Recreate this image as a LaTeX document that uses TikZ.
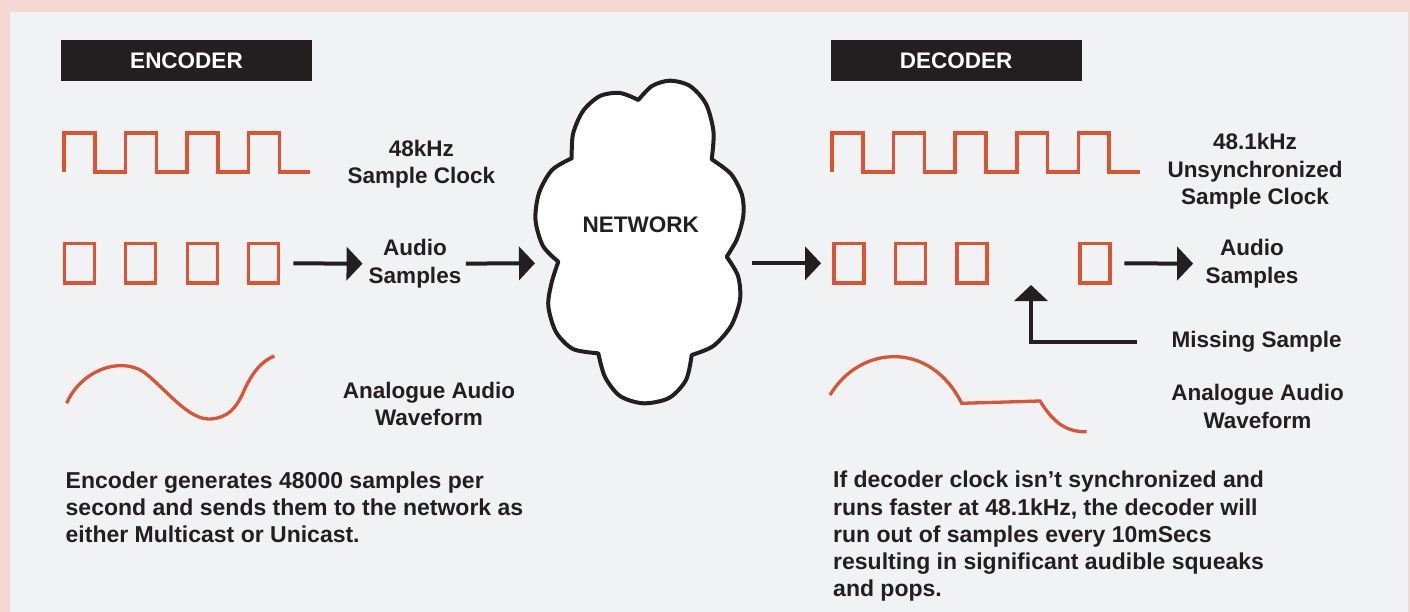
\documentclass[tikz,border=0pt]{standalone}
\usepackage{fontspec}
\setmainfont{Liberation Sans}
\usetikzlibrary{arrows.meta,positioning}
\definecolor{panelgray}{RGB}{241,242,244}
\definecolor{framepink}{RGB}{246,216,210}
\definecolor{waveorange}{RGB}{216,86,54}
\definecolor{inkblack}{RGB}{35,31,32}

\begin{document}
\begin{tikzpicture}[>={Triangle[length=16pt,width=33pt]}, x=1pt, y=-1pt, node distance=61.5pt]
    \tikzstyle{every node}=[font=\bfseries\fontsize{22.5}{27.5}\selectfont,text=inkblack,inner sep=0pt]
    \tikzstyle{title}=[fill=inkblack,text=white,minimum width=251pt,minimum height=41pt]
    \tikzstyle{sample}=[draw=waveorange,line width=3.3pt,minimum width=30pt,minimum height=39.3pt]
    \tikzstyle{wave}=[draw=waveorange,line width=3.6pt]
    \tikzstyle{flow}=[->,draw=inkblack,line width=4pt]
    \tikzstyle{caption}=[align=center]
    \tikzstyle{note}=[anchor=north west,align=left,font=\bfseries\fontsize{23}{27.2}\selectfont]

    \useasboundingbox (0,0) rectangle (1410,612);
    \fill[framepink] (0,0) rectangle (1410,612);
    \fill[panelgray] (10,12) rectangle (1408,612);

    \node[title] (enctitle) at (186.5,60.5) {ENCODER};
    \node[title] (dectitle) at (956,60.5)   {DECODER};

    % sample clocks
    \draw[wave] (64,171.8) \foreach \i in {1,...,4}{ -- ++(0,-38.6) -- ++(31,0) -- ++(0,38.6) -- ++(30.5,0)};
    \draw[wave] (832,171.8) \foreach \i in {1,...,5}{ -- ++(0,-38.6) -- ++(30.8,0) -- ++(0,38.6) -- ++(30.8,0)};
    \node[caption] (eclock) at (421.3,164.3) {48kHz\\Sample Clock};
    \node[caption] (dclock) at (1255,171.5)  {48.1kHz\\Unsynchronized\\Sample Clock};

    % audio samples
    \node[sample] (e1) at (79.3,263.3) {};
    \node[sample] (e2) [right of=e1] {};
    \node[sample] (e3) [right of=e2] {};
    \node[sample] (e4) [right of=e3] {};
    \node[sample] (d1) at (849,263.3) {};
    \node[sample] (d2) [right of=d1] {};
    \node[sample] (d3) [right of=d2] {};
    \node[sample] (d4) [right of=d3, node distance=123pt] {};
    \node[caption] (esamp) at (415,263.8)  {Audio\\Samples};
    \node[caption] (dsamp) at (1252,263.8) {Audio\\Samples};
    \node[caption] (miss)  at (1256.7,341.8) {Missing Sample};
    \coordinate (gap) at (1031,285);

    % network cloud
    \draw[fill=white,draw=inkblack,line width=4pt,line join=round]
      plot[smooth] coordinates {(571.7,158.3) (573,134) (583,111) (600,96) (620,93) (638.3,100)}
      -- plot[smooth] coordinates {(638.3,100) (652,86) (670,80.7) (690,86) (706,104) (713.5,132) (711.7,159.3)}
      -- plot[smooth] coordinates {(711.7,159.3) (731,174) (742,195) (743.3,216) (737,239) (726.7,256.7)}
      -- plot[smooth] coordinates {(726.7,256.7) (738,276) (740,300) (731,326) (713.3,346) (691.7,355)}
      -- plot[smooth] coordinates {(691.7,355) (686,380) (669,398) (643.3,403.3) (620,396) (605,377) (598.3,353.3)}
      -- plot[smooth] coordinates {(598.3,353.3) (573,349) (556,332) (548.3,306) (551.5,283) (558.3,261.7)}
      -- plot[smooth] coordinates {(558.3,261.7) (543,246) (535.5,220) (539,193) (552,170) (571.7,158.3)}
      -- cycle;
    \node (net) at (640.8,224.7) {NETWORK};
    \coordinate (cloudin)  at (535,263.3);
    \coordinate (cloudout) at (751.7,263.3);

    \path
    (e4) edge[flow,shorten <=13pt,shorten >=6pt]      (esamp)
    (esamp) edge[flow,shorten <=4.4pt]                (cloudin)
    (cloudout) edge[flow,shorten >=11.3pt]            (d1)
    (d4) edge[flow,shorten <=12.7pt,shorten >=12.4pt] (dsamp);
    \draw[flow,shorten <=34.7pt] (miss.west) -| (gap);

    % analogue waveforms
    \draw[wave,line width=3.3pt] (66.7,403.3) .. controls (80,372) and (118,356) .. (143.3,371.7)
      .. controls (165,388) and (188,420) .. (210,419)
      .. controls (228,418) and (236,408) .. (243,393)
      .. controls (252,372) and (262,361) .. (274.3,356);
    \draw[wave,line width=3.3pt] (830,395) .. controls (860,345) and (930,340) .. (961.7,403.3)
      -- (1040,401) .. controls (1055,425) and (1068,432) .. (1086.7,431.7);
    \node[caption] (ewave) at (429,404)    {Analogue Audio\\Waveform};
    \node[caption] (dwave) at (1257.5,406.7) {Analogue Audio\\Waveform};

    % notes
    \node[note] (encnote) at (65.5,471.5) {Encoder generates 48000 samples per\\second and sends them to the network as\\either Multicast or Unicast.};
    \node[note] (decnote) at (833,471) {If decoder clock isn’t synchronized and\\runs faster at 48.1kHz, the decoder will\\run out of samples every 10mSecs\\resulting in significant audible squeaks\\and pops.};
\end{tikzpicture}
\end{document}
